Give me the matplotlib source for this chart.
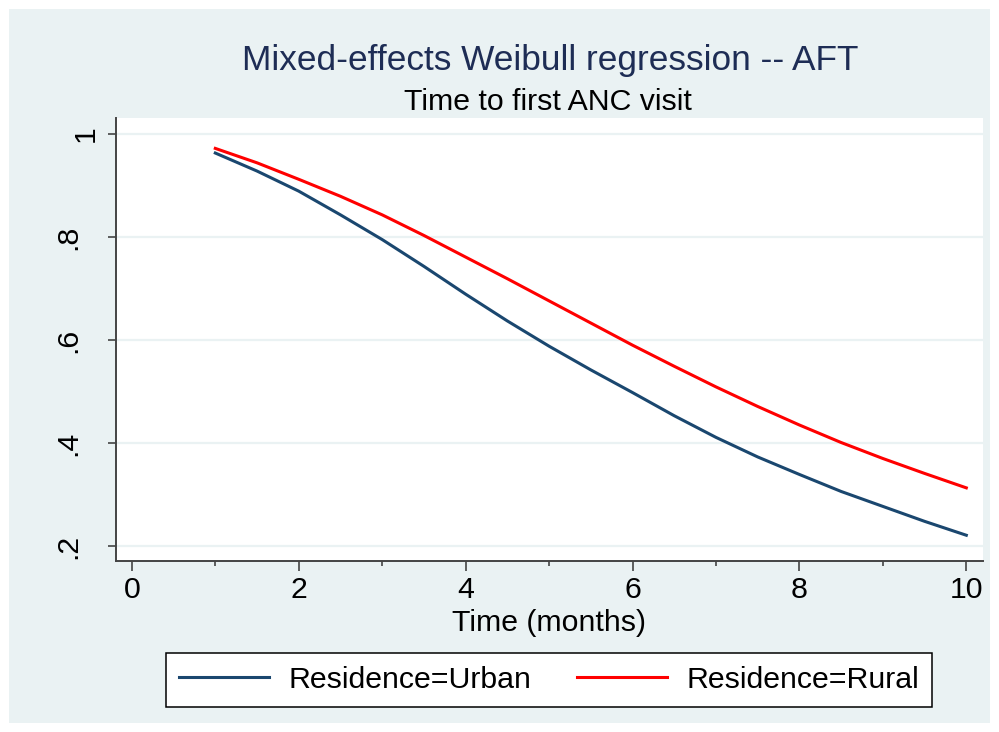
import matplotlib.pyplot as plt
import matplotlib.transforms as mtransforms
from matplotlib.patches import Rectangle

plt.rcParams['font.family'] = ['Liberation Sans', 'DejaVu Sans']

# survival curves
time = [1.0, 1.5, 2.0, 2.5, 3.0, 3.5, 4.0, 4.5, 5.0, 5.5,
        6.0, 6.5, 7.0, 7.5, 8.0, 8.5, 9.0, 9.5, 10.0]
urban = [0.963, 0.928, 0.889, 0.843, 0.795, 0.743, 0.689, 0.637, 0.588, 0.542,
         0.498, 0.453, 0.411, 0.373, 0.339, 0.306, 0.277, 0.248, 0.221]
rural = [0.972, 0.944, 0.912, 0.879, 0.843, 0.803, 0.761, 0.719, 0.676, 0.633,
         0.590, 0.549, 0.509, 0.471, 0.435, 0.401, 0.370, 0.341, 0.313]

xticks = [0, 2, 4, 6, 8, 10]
xminor = [1, 3, 5, 7, 9]
yticks = [0.2, 0.4, 0.6, 0.8, 1.0]
ylabels = [".2", ".4", ".6", ".8", "1"]

W, H = 999, 732
bg = "#EAF2F3"
axcol = "#444444"
fs = 21.8

fig = plt.figure(figsize=(W / 100, H / 100), dpi=100, facecolor="white")
fig.add_artist(Rectangle((9 / W, 9 / H), 981 / W, 714 / H, transform=fig.transFigure,
                         facecolor=bg, edgecolor="none", zorder=0))

ax = fig.add_axes([116 / W, 1 - 561 / H, 867 / W, 443 / H])
ax.set_facecolor("white")

l1, = ax.plot(time, urban, color="#1A476F", lw=2.2, label="Residence=Urban", zorder=3)
l2, = ax.plot(time, rural, color="#FF0000", lw=2.2, label="Residence=Rural", zorder=3)

ax.set_xlim(-0.19, 10.2)
ax.set_ylim(0.171, 1.031)

for s in ["top", "right"]:
    ax.spines[s].set_visible(False)
for s in ["left", "bottom"]:
    ax.spines[s].set_color(axcol)
    ax.spines[s].set_linewidth(1.4)

ax.set_yticks(yticks)
ax.set_yticklabels([])
ax.grid(axis="y", color=bg, lw=1.6, zorder=1)
ax.tick_params(axis="y", length=6, width=1.2, color=axcol)

ax.set_xticks(xticks)
ax.set_xticks(xminor, minor=True)
ax.tick_params(axis="x", which="major", length=7.2, width=1.2, color=axcol,
               labelsize=fs, pad=3.5)
ax.tick_params(axis="x", which="minor", length=3.6, width=1.2, color=axcol)

# vertical y labels, placed as in the original
tr = mtransforms.blended_transform_factory(fig.transFigure, ax.transData)
for v, lab in zip(yticks, ylabels):
    xc = 86 / W if lab == "1" else 68 / W
    ax.text(xc, v, lab, transform=tr, rotation=90, ha="center", va="center",
            fontsize=fs, clip_on=False)

fig.text(550 / W, 1 - 70 / H, "Mixed-effects Weibull regression -- AFT",
         ha="center", va="baseline", fontsize=25.4, color="#1E2D55")
fig.text(548 / W, 1 - 110 / H, "Time to first ANC visit",
         ha="center", va="baseline", fontsize=fs, color="black")
fig.text(549 / W, 1 - 631 / H, "Time (months)",
         ha="center", va="baseline", fontsize=fs, color="black")

leg = fig.legend(handles=[l1, l2], loc="center", bbox_to_anchor=(549 / W, 1 - 680 / H),
                 ncol=2, fontsize=fs, frameon=True, fancybox=False,
                 handlelength=2.97, handletextpad=0.63, columnspacing=1.52,
                 borderpad=0.43)
leg.get_frame().set_edgecolor("black")
leg.get_frame().set_linewidth(1.1)
leg.get_frame().set_facecolor("white")
leg.get_frame().set_alpha(1)

fig.savefig("out.png", dpi=100, facecolor="white")
